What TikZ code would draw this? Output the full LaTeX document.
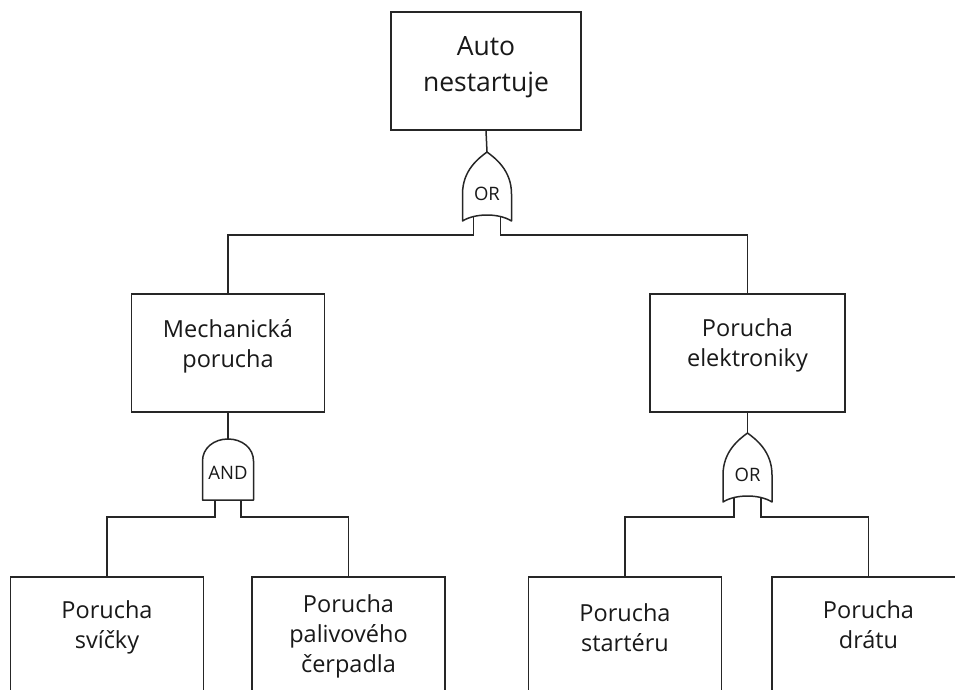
\documentclass[tikz,border=0pt]{standalone}
\usepackage{fontspec}
\setmainfont{Open Sans}
\begin{document}
\begin{tikzpicture}[x=1pt,y=-1pt,
  wire/.style={line width=1.5pt, draw=black!85},
  event/.style={wire, rectangle, minimum width=193pt, minimum height=118pt, inner sep=0pt, fill=white},
  lbl/.style={align=center, text=black!90, font=\fontsize{23.5}{30}\selectfont},
  toplbl/.style={align=center, text=black!90, font=\fontsize{26.5}{36}\selectfont},
  gatelbl/.style={text=black!90, font=\fontsize{18.5}{22}\selectfont},
  gate/.style={wire, fill=white, line join=round},
  orgate/.pic={
    \path[gate] (0,0) .. controls (-8,6) and (-24.5,18) .. (-24.5,42)
      -- (-24.5,69) .. controls (-12,61) and (12,61) .. (24.5,69)
      -- (24.5,42) .. controls (24.5,18) and (8,6) .. (0,0) -- cycle;
    \node[gatelbl] (-t) at (0,42) {OR};
    \coordinate (-in) at (0,0);
    \coordinate (-l) at (-13.5,64);
    \coordinate (-r) at (13.5,64);
  },
  andgate/.pic={
    \path[gate] (-25.5,61) -- (-25.5,22) .. controls (-25.5,9) and (-14,0) .. (0,0)
      .. controls (14,0) and (25.5,9) .. (25.5,22) -- (25.5,61) -- cycle;
    \node[gatelbl] (-t) at (0,34) {AND};
    \coordinate (-in) at (0,0);
    \coordinate (-l) at (-13,61);
    \coordinate (-r) at (13,61);
  }]
\useasboundingbox (0,0) rectangle (955,690);
\clip (0,0) rectangle (955,690);

% event boxes
\node[event, minimum width=190pt] (top) at (486,71) {};
\node[event] (mech) at (228,353) {};
\node[event, minimum width=195pt] (elek) at (747.5,353) {};
\node[event] (b1) at (107,636) {};
\node[event] (b2) at (348.5,636) {};
\node[event] (b3) at (625,636) {};
\node[event] (b4) at (868.5,636) {};

% box texts
\node[toplbl] (ttop) at (486,67) {Auto\\nestartuje};
\node[lbl] (tmech) at (228,346) {Mechanická\\porucha};
\node[lbl] (telek) at (747.5,345) {Porucha\\elektroniky};
\node[lbl] (tb1) at (107,627) {Porucha\\svíčky};
\node[lbl] (tb2) at (348.5,636) {Porucha\\palivového\\čerpadla};
\node[lbl] (tb3) at (625,628) {Porucha\\startéru};
\node[lbl] (tb4) at (868.5,625) {Porucha\\drátu};

% gates
\pic (g0) at (487,152) {orgate};
\pic (g1) at (228,439) {andgate};
\pic (g2) at (747.5,433) {orgate};

% connectors
\draw[wire] (top.south) -- (g0-in);
\draw[wire] (g0-l) -- ++(0,19) -| (mech.north);
\draw[wire] (g0-r) -- ++(0,19) -| (elek.north);

\draw[wire] (mech.south) -- (g1-in);
\draw[wire] (g1-l) -- ++(0,17) -| (b1.north);
\draw[wire] (g1-r) -- ++(0,17) -| (b2.north);

\draw[wire] (elek.south) -- (g2-in);
\draw[wire] (g2-l) -- ++(0,20) -| (b3.north);
\draw[wire] (g2-r) -- ++(0,20) -| (b4.north);
\end{tikzpicture}
\end{document}
